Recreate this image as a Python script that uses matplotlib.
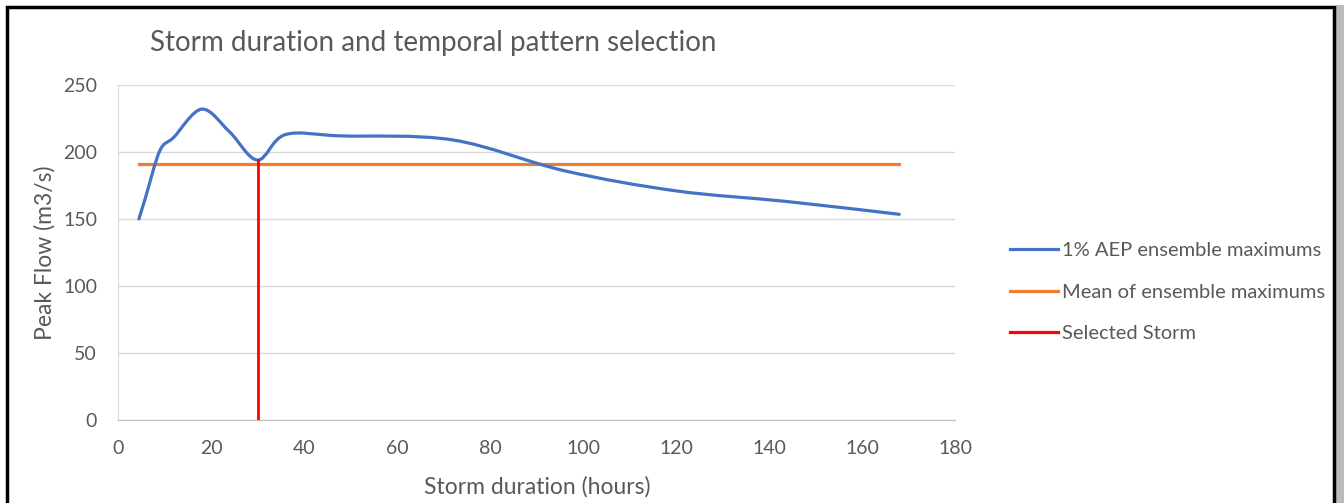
import matplotlib
matplotlib.use("Agg")
import matplotlib.pyplot as plt
from matplotlib.path import Path
from matplotlib.patches import PathPatch, Rectangle
from matplotlib.lines import Line2D
import numpy as np

plt.rcParams['font.family'] = ['Lato', 'DejaVu Sans']

# Data
durations = [4.5, 6, 9, 12, 18, 24, 30, 36, 48, 72, 96, 120, 144, 168]
peak_flow = [150, 167, 201, 211, 232, 215, 194, 213, 212, 209, 186, 171, 163, 153.5]
mean_flow = 191
selected_duration = 30
selected_flow = 194
series_labels = ["1% AEP ensemble maximums", "Mean of ensemble maximums", "Selected Storm"]
title = "Storm duration and temporal pattern selection"
xlabel = "Storm duration (hours)"
ylabel = "Peak Flow (m3/s)"
xticks = [0, 20, 40, 60, 80, 100, 120, 140, 160, 180]
yticks = [0, 50, 100, 150, 200, 250]

BLUE = "#4472C4"
ORANGE = "#ED7D31"
RED = "#FF0000"
GREY = "#595959"

W, H = 1344, 503
fig = plt.figure(figsize=(W / 100, H / 100), dpi=100)
ax = fig.add_axes([118 / W, 1 - 420 / H, 837 / W, 335 / H])


def smooth_path(xs, ys):
    """Excel-style smoothed line as cubic Bezier segments through the data points."""
    pts = np.column_stack([xs, ys]).astype(float)
    n = len(pts)
    verts = [pts[0]]
    codes = [Path.MOVETO]
    for i in range(n - 1):
        p0 = pts[i - 1] if i > 0 else pts[i]
        p1 = pts[i]
        p2 = pts[i + 1]
        p3 = pts[i + 2] if i + 2 < n else pts[i + 1]
        c1 = p1 + (p2 - p0) / 6.0
        c2 = p2 - (p3 - p1) / 6.0
        verts += [c1, c2, p2]
        codes += [Path.CURVE4] * 3
    return Path(verts, codes)


ax.add_patch(PathPatch(smooth_path(durations, peak_flow), facecolor='none',
                       edgecolor=BLUE, lw=2.3, capstyle='round', joinstyle='round', zorder=3))
ax.plot([durations[0], durations[-1]], [mean_flow, mean_flow], color=ORANGE, lw=2.3, zorder=2)
ax.plot([selected_duration, selected_duration], [0, selected_flow], color=RED, lw=2.0, zorder=4)

ax.set_xlim(0, 180)
ax.set_ylim(0, 250)
ax.set_xticks(xticks)
ax.set_yticks(yticks)
ax.tick_params(axis='both', length=0, labelsize=14, labelcolor=GREY)
ax.tick_params(axis='x', pad=14.5)
ax.tick_params(axis='y', pad=15)
ax.yaxis.grid(True, color="#D9D9D9", lw=1.0)
ax.set_axisbelow(True)
for s in ['top', 'right']:
    ax.spines[s].set_visible(False)
ax.spines['left'].set_color("#D9D9D9")
ax.spines['bottom'].set_color("#BFBFBF")

fig.text(150 / W, 1 - 43 / H, title, fontsize=20, color=GREY, ha='left', va='center')
fig.text(537 / W, 1 - 487 / H, xlabel, fontsize=16.5, color=GREY, ha='center', va='center')
fig.text(45 / W, 1 - 253 / H, ylabel, fontsize=16.5, color=GREY, ha='center', va='center', rotation=90)

handles = [Line2D([], [], color=BLUE, lw=2.3),
           Line2D([], [], color=ORANGE, lw=2.3),
           Line2D([], [], color=RED, lw=2.3)]
ax.legend(handles, series_labels, loc='center left', bbox_to_anchor=(1010 / W, 1 - 292 / H),
          bbox_transform=fig.transFigure, frameon=False, borderaxespad=0, borderpad=0,
          fontsize=14.5, labelcolor=GREY, handlelength=2.4, handletextpad=0.2, labelspacing=1.2)

# Outer border with shadow
fig.add_artist(Rectangle((1336 / W, 0), 8 / W, 1 - 5 / H, transform=fig.transFigure,
                         facecolor="#BBBBBB", edgecolor='none', zorder=9))
fig.add_artist(Rectangle((6.5 / W, -0.05), 1327 / W, 1.05 - 6.5 / H, transform=fig.transFigure,
                         facecolor='none', edgecolor='black', lw=2.5, zorder=10))

fig.savefig("out.png", dpi=100)
